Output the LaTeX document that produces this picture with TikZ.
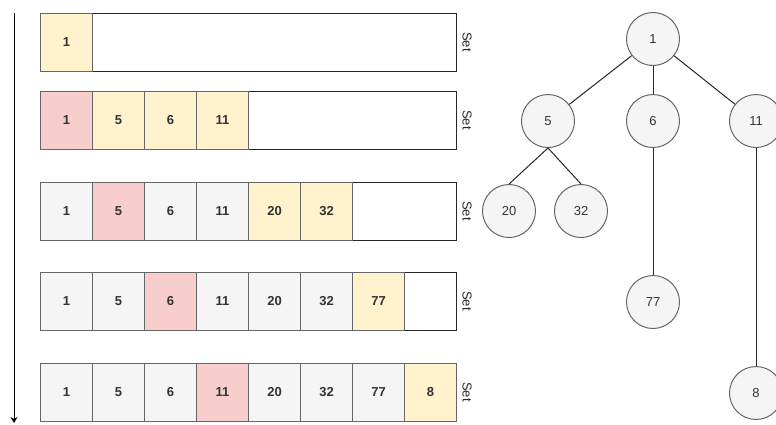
\documentclass[tikz,border=0pt]{standalone}
\usepackage{fontspec}
\setmainfont{Liberation Sans}
\usetikzlibrary{arrows.meta}

\definecolor{newfill}{HTML}{FFF2CC}
\definecolor{curfill}{HTML}{F8CECC}
\definecolor{donefill}{HTML}{F5F5F5}
\definecolor{cellline}{HTML}{666666}
\definecolor{textgrey}{HTML}{333333}

\tikzset{
  cell/.style={draw=cellline, line width=1pt, minimum width=52, minimum height=58,
    inner sep=0, anchor=west, text=textgrey, font=\fontsize{13}{15}\selectfont\bfseries},
  newcell/.style={cell, fill=newfill},
  curcell/.style={cell, fill=curfill},
  donecell/.style={cell, fill=donefill},
  rest/.style={draw=black!85, line width=1pt, fill=white, minimum height=58,
    inner sep=0, anchor=west},
  setlabel/.style={rotate=-90, text=black!85, font=\fontsize{13}{15}\selectfont},
  vertex/.style={circle, draw=cellline, line width=1pt, fill=donefill, minimum size=53,
    inner sep=0, text=textgrey, font=\fontsize{13}{15}\selectfont},
  treeedge/.style={line width=1pt, black!85}
}

\begin{document}
\begin{tikzpicture}[x=1pt, y=-1pt]
  \useasboundingbox (0,0) rectangle (776,424);

  % time runs downwards
  \coordinate (tstart) at (14,13);
  \coordinate (tend) at (14,423);
  \draw[line width=1pt, -{Stealth[length=6pt, width=7pt]}] (tstart) -- (tend);

  % the set after each step
  \node[rest, minimum width=364] (r1rest) at (92,42) {};
  \node[newcell] (r1c1) at (40,42) {1};
  \node[setlabel] (r1set) at (467,42) {Set};

  \node[rest, minimum width=208] (r2rest) at (248,120) {};
  \foreach \v/\s [count=\i] in {1/curcell,5/newcell,6/newcell,11/newcell}
    \node[\s] (r2c\i) at ({40+52*(\i-1)},120) {\v};
  \node[setlabel] (r2set) at (467,120) {Set};

  \node[rest, minimum width=104] (r3rest) at (352,211) {};
  \foreach \v/\s [count=\i] in {1/donecell,5/curcell,6/donecell,11/donecell,20/newcell,32/newcell}
    \node[\s] (r3c\i) at ({40+52*(\i-1)},211) {\v};
  \node[setlabel] (r3set) at (467,211) {Set};

  \node[rest, minimum width=52] (r4rest) at (404,301) {};
  \foreach \v/\s [count=\i] in {1/donecell,5/donecell,6/curcell,11/donecell,20/donecell,32/donecell,77/newcell}
    \node[\s] (r4c\i) at ({40+52*(\i-1)},301) {\v};
  \node[setlabel] (r4set) at (467,301) {Set};

  \foreach \v/\s [count=\i] in {1/donecell,5/donecell,6/donecell,11/curcell,20/donecell,32/donecell,77/donecell,8/newcell}
    \node[\s] (r5c\i) at ({40+52*(\i-1)},392) {\v};
  \node[setlabel] (r5set) at (467,392) {Set};

  % the tree
  \node[vertex] (t1) at (653,39) {1};
  \node[vertex] (t5) at (548,121) {5};
  \node[vertex] (t6) at (653,121) {6};
  \node[vertex] (t11) at (756,121) {11};
  \node[vertex] (t20) at (509,211) {20};
  \node[vertex] (t32) at (581,211) {32};
  \node[vertex] (t77) at (653,302) {77};
  \node[vertex] (t8) at (756,393) {8};

  \draw[treeedge] (t1) -- (t5);
  \draw[treeedge] (t1) -- (t6);
  \draw[treeedge] (t1) -- (t11);
  \draw[treeedge] (t5.south) -- (t20.north);
  \draw[treeedge] (t5.south) -- (t32.north);
  \draw[treeedge] (t6) -- (t77);
  \draw[treeedge] (t11) -- (t8);
\end{tikzpicture}
\end{document}
